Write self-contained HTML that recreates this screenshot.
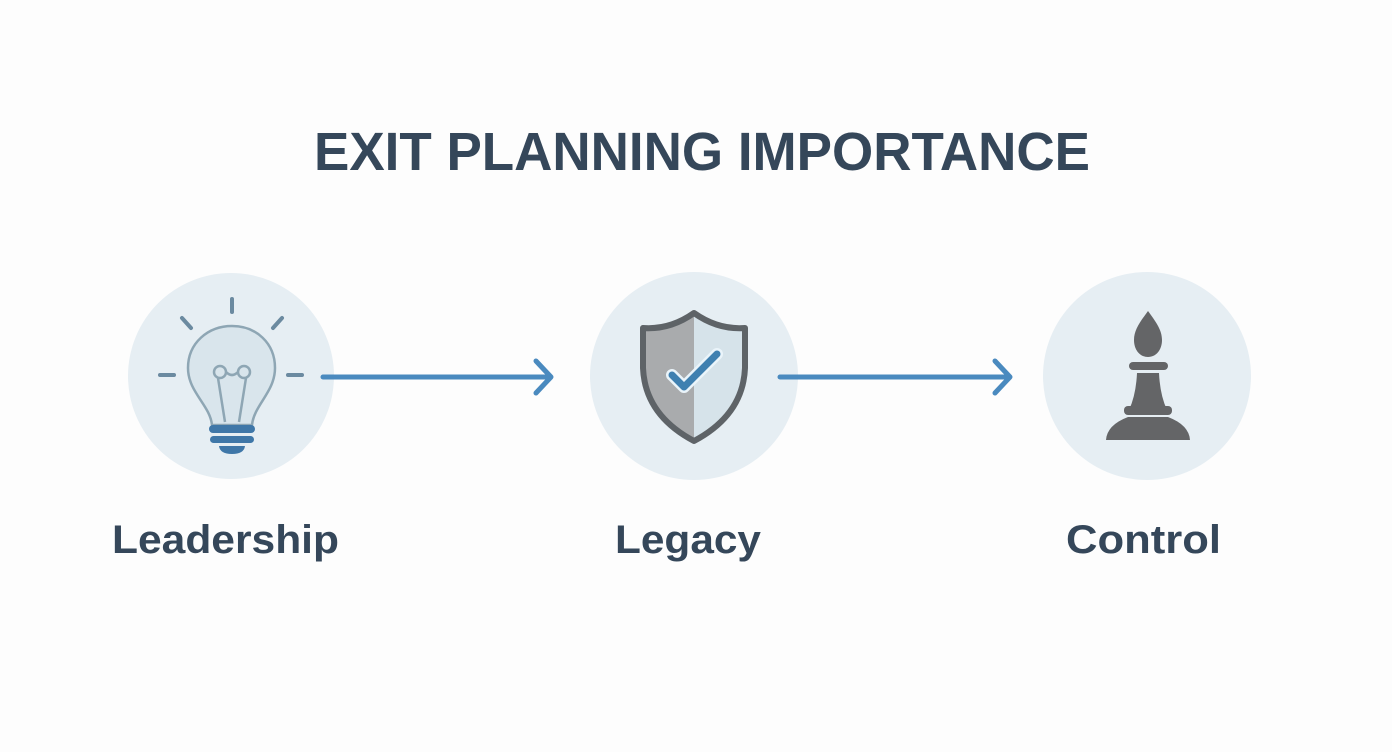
<!DOCTYPE html>
<html><head><meta charset="utf-8"><style>html,body{margin:0;padding:0;background:#fdfdfd}svg{display:block}</style></head>
<body>
<svg width="1392" height="752" viewBox="0 0 1392 752" xmlns="http://www.w3.org/2000/svg">
<rect width="1392" height="752" fill="#fdfdfd"/>
<g font-family="Liberation Sans, sans-serif" font-weight="bold" fill="#35475a">
<text x="314" y="170" font-size="54" textLength="776" lengthAdjust="spacingAndGlyphs">EXIT PLANNING IMPORTANCE</text>
<text x="112" y="553" font-size="40" textLength="227" lengthAdjust="spacingAndGlyphs">Leadership</text>
<text x="615" y="553" font-size="40" textLength="146" lengthAdjust="spacingAndGlyphs">Legacy</text>
<text x="1066" y="553" font-size="40" textLength="155" lengthAdjust="spacingAndGlyphs">Control</text>
</g>
<circle cx="231" cy="376" r="103" fill="#e6eef3"/>
<circle cx="694" cy="376" r="104" fill="#e6eef3"/>
<circle cx="1147" cy="376" r="104" fill="#e6eef3"/>
<!-- arrows -->
<g stroke="#4a8abf" stroke-width="5" stroke-linecap="round" fill="none" stroke-linejoin="round">
<line x1="323" y1="377" x2="550" y2="377"/>
<polyline points="536,361 551,377 536,393"/>
<line x1="780" y1="377" x2="1009" y2="377"/>
<polyline points="995,361 1010,377 995,393"/>
</g>
<!-- bulb -->
<g stroke="#6b8aa0" stroke-width="4" stroke-linecap="round">
<line x1="232" y1="299" x2="232" y2="312"/>
<line x1="182" y1="318" x2="191" y2="328"/>
<line x1="282" y1="318" x2="273" y2="328"/>
<line x1="160" y1="375" x2="174" y2="375"/>
<line x1="288" y1="375" x2="302" y2="375"/>
</g>
<path d="M212,425 C210,405 188,392 188,368 C188,343 208,326 232,326 C256,326 275,343 275,368 C275,392 254,405 252,425 Z" fill="#d9e5ec" stroke="#8ea6b4" stroke-width="2.5"/>
<g stroke="#8ea6b4" stroke-width="2.5" fill="none">
<circle cx="220" cy="372" r="6"/><circle cx="244" cy="372" r="6"/>
<path d="M226,372 Q232,378 238,372"/>
<line x1="218" y1="378" x2="225" y2="422"/><line x1="246" y1="378" x2="239" y2="422"/>
</g>
<g fill="#3f77a8">
<rect x="209" y="425" width="46" height="8" rx="4"/>
<rect x="210" y="436" width="44" height="7" rx="3.5"/>
<path d="M219,446 H245 Q244,454 232,454 Q220,454 219,446 Z"/>
</g>
<!-- shield -->
<path d="M694,313 Q670,330 643,328 L643,368 Q645,415 694,441 Z" fill="#a9abad"/>
<path d="M694,313 Q718,330 745,328 L745,368 Q743,415 694,441 Z" fill="#d6e3ea"/>
<path d="M694,313 Q670,330 643,328 L643,368 Q645,415 694,441 Q743,415 745,368 L745,328 Q718,330 694,313 Z" fill="none" stroke="#5e6367" stroke-width="6" stroke-linejoin="round"/>
<polyline points="672,375 684,387 717,354" fill="none" stroke="#eaf4fa" stroke-width="12" stroke-linecap="round" stroke-linejoin="round"/>
<polyline points="672,375 684,387 717,354" fill="none" stroke="#3f80b0" stroke-width="7" stroke-linecap="round" stroke-linejoin="round"/>
<!-- pawn/bishop -->
<g fill="#646567">
<path d="M1148,311 C1140,322 1134,330 1134,340 C1134,350 1140,357 1148,357 C1156,357 1162,350 1162,340 C1162,330 1156,322 1148,311 Z"/>
<rect x="1129" y="362" width="39" height="8" rx="4"/>
<path d="M1137,373 H1159 Q1160,395 1167,410 H1129 Q1136,395 1137,373 Z"/>
<rect x="1124" y="406" width="48" height="9" rx="4"/>
<path d="M1128,417 H1168 Q1189,425 1190,440 H1106 Q1107,425 1128,417 Z"/>
</g>
</svg>
</body></html>
